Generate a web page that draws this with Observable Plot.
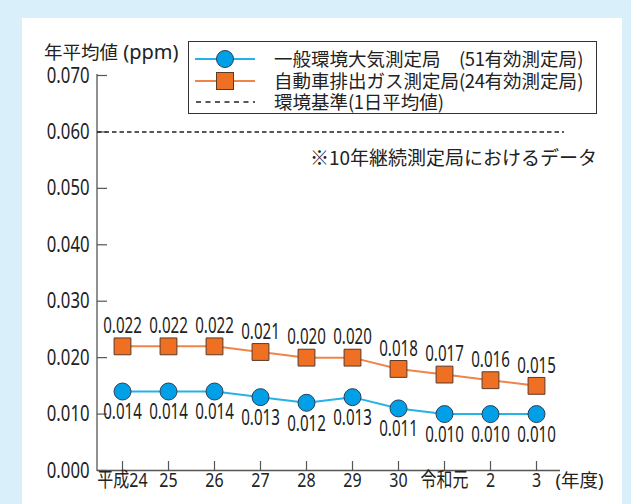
<!DOCTYPE html>
<html><head><meta charset="utf-8">
<script src="https://cdn.jsdelivr.net/npm/d3@7"></script>
<script src="https://cdn.jsdelivr.net/npm/@observablehq/plot@0.6"></script>
<style>
body{margin:0;background:#d9f0fa;}
#wrap{position:relative;width:631px;height:504px;overflow:hidden;font-family:"Noto Sans CJK JP",sans-serif;color:#222;}
#panel{position:absolute;left:22px;top:18px;width:600px;height:490px;background:#fff;}
#chart{position:absolute;left:0;top:0;}
.abs{position:absolute;white-space:nowrap;line-height:1;}
#legend{position:absolute;left:188px;top:41px;width:409px;height:73px;border:1px solid #333;box-sizing:border-box;background:#fff;}
.row{position:absolute;left:0;width:100%;height:22px;}
.row svg{position:absolute;left:6px;top:0;}
.row span.t{position:absolute;left:85px;top:0.7px;font-size:18.5px;line-height:1;white-space:nowrap;}
.n{letter-spacing:-0.4px;}
</style></head>
<body>
<div id="wrap">
  <div id="panel"></div>
  <div id="chart"></div>
  <div class="abs" id="ytitle" style="left:44px;top:42px;font-size:18.5px;"></div>
  <div id="legend"></div>
  <div class="abs" id="note" style="right:34px;top:147px;font-size:19px;"></div>
</div>
<script>
const years = ["平成24","25","26","27","28","29","30","令和元","2","3"];
const general = [0.014,0.014,0.014,0.013,0.012,0.013,0.011,0.010,0.010,0.010];
const roadside = [0.022,0.022,0.022,0.021,0.020,0.020,0.018,0.017,0.016,0.015];
const standard = 0.060;
const yTicks = [0,0.01,0.02,0.03,0.04,0.05,0.06,0.07];
const seriesNames = ["一般環境大気測定局　(51有効測定局)","自動車排出ガス測定局(24有効測定局)","環境基準(1日平均値)"];
const yTitleMain = "年平均値";
const yTitleUnit = " (ppm)";
const xUnit = "(年度)";
const noteText = "※10年継続測定局におけるデータ";

const blueLine = "#27b1e8", blueFill = "#00a0e9";
const orangeLine = "#f0844a", orangeFill = "#ef7023";
const numFont = '"Noto Sans","Noto Sans CJK JP",sans-serif';

const data = years.map((y,i)=>({year:y, general:general[i], roadside:roadside[i]}));
const fmt = d3.format(".3f");

const plot = Plot.plot({
  width:631, height:504,
  marginLeft:97, marginRight:71, marginTop:75, marginBottom:34,
  style:{background:"transparent", fontFamily:numFont, color:"#222", overflow:"visible"},
  x:{type:"point", domain:years, padding:0.5, axis:null},
  y:{domain:[0,0.07], axis:null},
  marks:[
    (index, scales, values, dims) => {
      const l = d3.create("svg:line")
        .attr("x1", dims.marginLeft).attr("x2", dims.marginLeft)
        .attr("y1", scales.y(0.07)-1).attr("y2", scales.y(0)+1)
        .attr("stroke", "#555").attr("stroke-width", 1.3);
      return l.node();
    },
    Plot.ruleY([0], {stroke:"#555", strokeWidth:1.3}),
    Plot.tickY(yTicks, {y:d=>d, insetRight:453, stroke:"#555", strokeWidth:1.2}),
    Plot.text(yTicks, {y:d=>d, frameAnchor:"left", dx:-8, textAnchor:"end", text:d=>fmt(d), fontSize:22, fill:"#222"}),
    Plot.tickX(years, {x:d=>d, insetTop:386, stroke:"#555", strokeWidth:1.2}),
    Plot.text(years, {x:d=>d, frameAnchor:"bottom", dy:16, text:d=>d, fontSize:20.5, fill:"#222"}),
    Plot.text([xUnit], {frameAnchor:"bottom-right", dx:43, dy:16, text:d=>d, fontSize:18.5, fill:"#222", textAnchor:"end"}),
    Plot.ruleY([standard], {stroke:"#222", strokeWidth:1.5, strokeDasharray:"4.5,3", insetRight:-4}),
    Plot.line(data, {x:"year", y:"roadside", stroke:orangeLine, strokeWidth:2}),
    Plot.line(data, {x:"year", y:"general", stroke:blueLine, strokeWidth:2}),
    Plot.dot(data, {x:"year", y:"roadside", symbol:"square", r:9.5, fill:orangeFill, stroke:"#5a3a2a", strokeWidth:1}),
    Plot.dot(data, {x:"year", y:"general", r:8.5, fill:blueFill, stroke:"#2a3f55", strokeWidth:1}),
    Plot.text(data, {x:"year", y:"roadside", dy:-20, text:d=>fmt(d.roadside), fontSize:21, fill:"#222"}),
    Plot.text(data, {x:"year", y:"general", dy:21, text:d=>fmt(d.general), fontSize:21, fill:"#222"})
  ]
});

// condense numeric labels horizontally (reference uses a condensed face)
function condense(t, sx) {
  let pre = "";
  const xa = t.getAttribute("x");
  if (xa !== null && !isNaN(+xa)) { pre = `translate(${+xa},0)`; t.removeAttribute("x"); }
  const tr = t.getAttribute("transform") || "";
  t.setAttribute("transform", `${tr} ${pre} scale(${sx},1)`.trim());
}
const textGroups = plot.querySelectorAll('g[aria-label="text"]');
const scales = [0.76, 0.78, 1, 0.72, 0.72];
textGroups.forEach((g,i)=>{ if (scales[i] !== 1) g.querySelectorAll("text").forEach(t=>condense(t, scales[i])); });
document.getElementById("chart").appendChild(plot);

const yt = document.getElementById("ytitle");
yt.textContent = yTitleMain;
const u = document.createElement("span");
u.textContent = yTitleUnit;
u.style.fontFamily = '"Noto Sans",sans-serif';
u.style.fontSize = "20px";
yt.appendChild(u);
document.getElementById("note").textContent = noteText;

const leg = document.getElementById("legend");
const rowCenters = [17, 39, 60];
const syms = [
  `<svg width="62" height="22"><line x1="0" x2="60" y1="11" y2="11" stroke="${blueLine}" stroke-width="2"/><circle cx="30" cy="11" r="8.5" fill="${blueFill}" stroke="#2a3f55"/></svg>`,
  `<svg width="62" height="22"><line x1="0" x2="60" y1="11" y2="11" stroke="${orangeLine}" stroke-width="2"/><rect x="21.5" y="2.5" width="17" height="17" fill="${orangeFill}" stroke="#5a3a2a"/></svg>`,
  `<svg width="62" height="22"><line x1="1" x2="60" y1="11" y2="11" stroke="#222" stroke-width="1.6" stroke-dasharray="5,4.5"/></svg>`
];
seriesNames.forEach((n,i)=>{
  const r = document.createElement("div");
  r.className = "row"; r.style.top = (rowCenters[i] - 11) + "px";
  r.innerHTML = syms[i];
  const s = document.createElement("span");
  s.className = "t";
  n.split(/([\x20-\x7e]+)/).forEach(part=>{
    if (!part) return;
    if (/^[\x20-\x7e]+$/.test(part)) { const e = document.createElement("span"); e.className = "n"; e.textContent = part; s.appendChild(e); }
    else s.appendChild(document.createTextNode(part));
  });
  r.appendChild(s);
  leg.appendChild(r);
});
</script>
</body></html>
